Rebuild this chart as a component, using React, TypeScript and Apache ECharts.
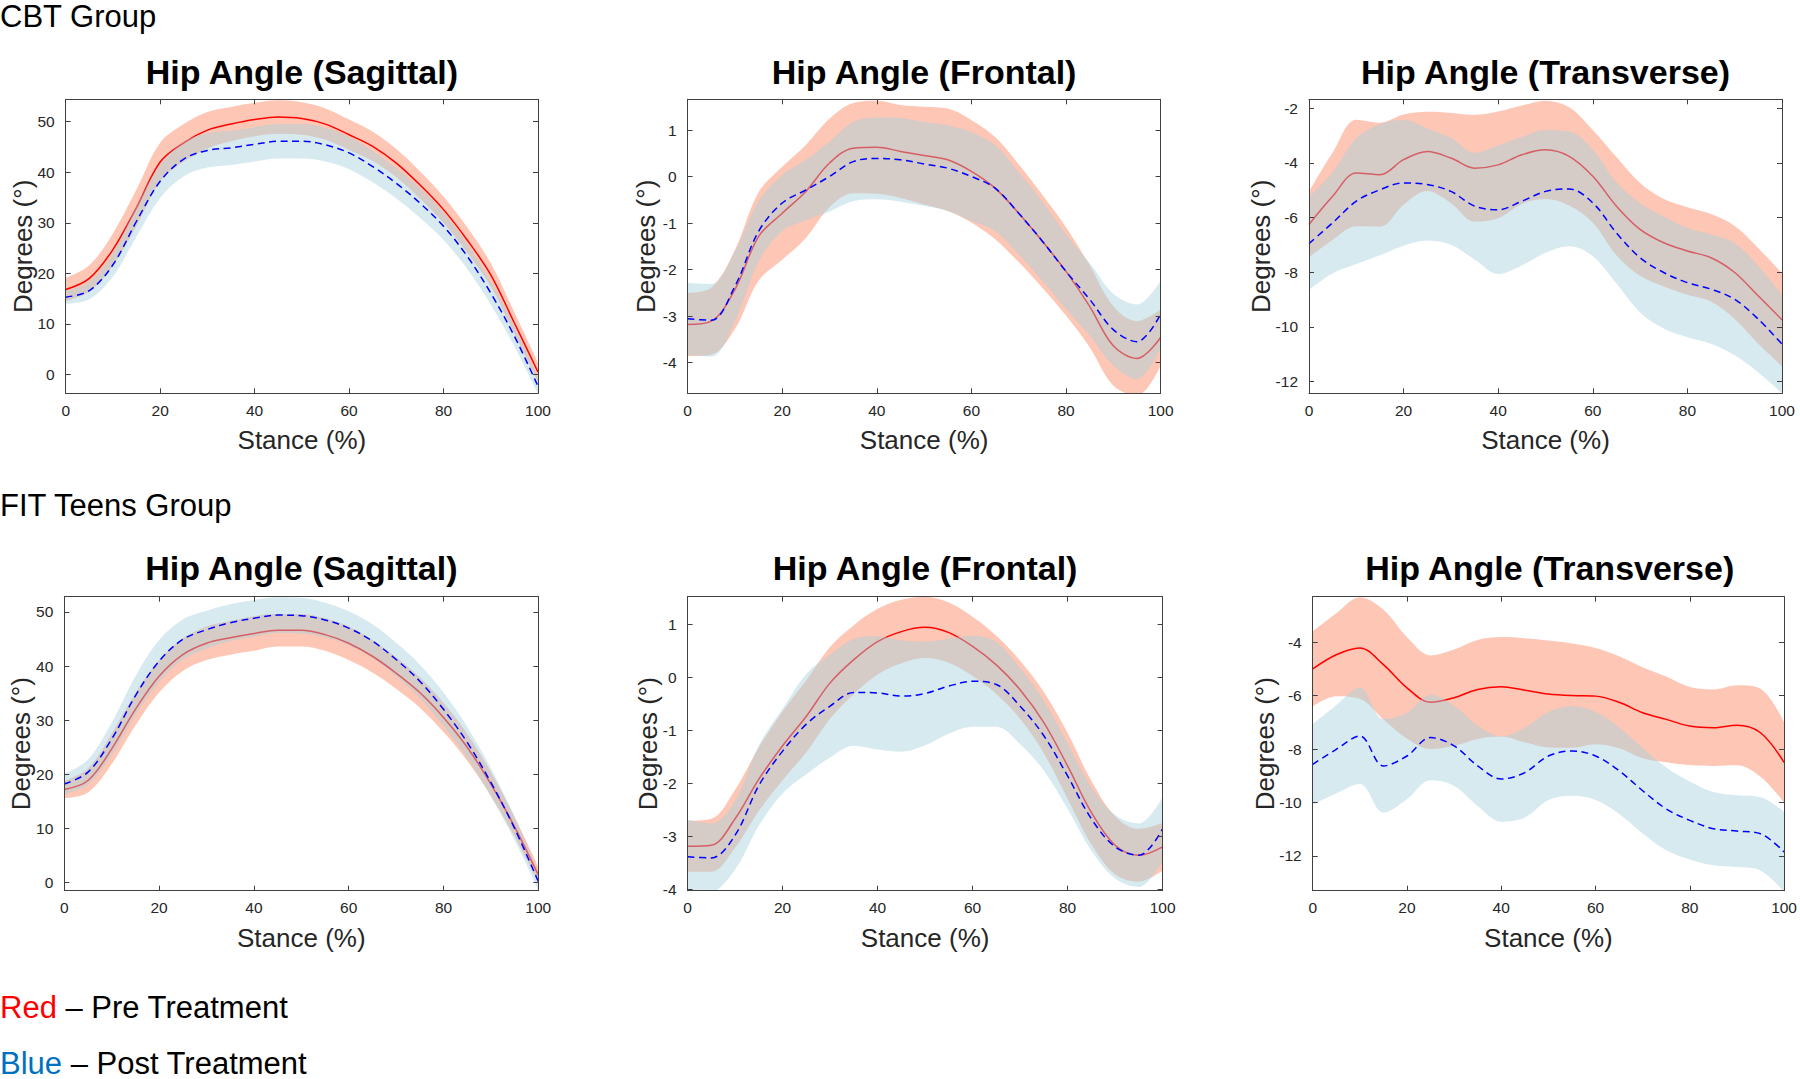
import React, { useEffect, useRef } from "react";
import * as echarts from "echarts";

// ---------- data ----------
const stance = [0, 5, 10, 15, 20, 25, 30, 35, 40, 45, 50, 55, 60, 65, 70, 75, 80, 85, 90, 95, 100];

// CBT Group – Sagittal
const cbtSagPreMean = [16.8, 19.0, 24.7, 33.0, 42.0, 45.8, 48.3, 49.5, 50.4, 50.9, 50.6, 49.5, 47.4, 45.1, 41.8, 37.5, 32.6, 26.6, 19.7, 10.2, 0.5];
const cbtSagPreSd = [2.3, 2.6, 3.2, 3.6, 3.8, 3.7, 3.6, 3.4, 3.3, 3.3, 3.2, 3.1, 3.0, 2.9, 2.8, 2.7, 2.6, 2.5, 2.3, 2.1, 1.9];
const cbtSagPostMean = [15.3, 16.6, 21.7, 30.3, 38.2, 42.6, 44.3, 44.8, 45.5, 46.1, 46.1, 45.4, 43.8, 41.1, 37.8, 33.9, 29.3, 23.4, 16.1, 7.6, -2.3];
const cbtSagPostSd = [1.3, 1.7, 2.3, 3.0, 3.3, 3.4, 3.4, 3.4, 3.4, 3.4, 3.4, 3.3, 3.2, 3.1, 3.0, 2.9, 2.7, 2.5, 2.3, 2.0, 1.5];

// CBT Group – Frontal
const cbtFroPreMean = [-3.18, -3.11, -2.43, -1.29, -0.79, -0.32, 0.29, 0.61, 0.63, 0.54, 0.45, 0.36, 0.11, -0.25, -0.79, -1.39, -2.04, -2.79, -3.64, -3.91, -3.46];
const cbtFroPreSd = [0.68, 0.72, 0.85, 0.95, 1.0, 1.0, 0.95, 0.97, 1.0, 1.0, 1.05, 1.1, 1.1, 1.1, 1.05, 1.0, 0.95, 0.88, 0.85, 0.8, 0.6];
const cbtFroPostMean = [-3.06, -3.09, -2.36, -1.18, -0.57, -0.29, 0.0, 0.32, 0.39, 0.36, 0.27, 0.18, 0.0, -0.25, -0.79, -1.39, -2.04, -2.64, -3.29, -3.55, -2.96];
const cbtFroPostSd = [0.77, 0.78, 0.75, 0.65, 0.6, 0.65, 0.75, 0.85, 0.88, 0.9, 0.9, 0.92, 0.95, 0.92, 0.88, 0.85, 0.8, 0.78, 0.77, 0.8, 0.72];

// CBT Group – Transverse
const cbtTraPreMean = [-6.25, -5.22, -4.37, -4.43, -3.88, -3.58, -3.82, -4.19, -4.07, -3.7, -3.52, -3.76, -4.49, -5.58, -6.43, -6.92, -7.22, -7.47, -8.01, -8.87, -9.74];
const cbtTraPreSd = [1.2, 1.6, 1.95, 1.9, 1.65, 1.45, 1.65, 1.95, 1.95, 1.8, 1.8, 1.8, 1.7, 1.8, 1.7, 1.6, 1.6, 1.6, 1.7, 1.75, 1.7];
const cbtTraPostMean = [-6.95, -6.19, -5.4, -4.98, -4.73, -4.79, -5.04, -5.58, -5.71, -5.4, -5.04, -4.95, -5.46, -6.56, -7.47, -8.01, -8.38, -8.62, -8.99, -9.72, -10.63];
const cbtTraPostSd = [1.7, 1.85, 2.3, 2.4, 2.3, 2.05, 1.95, 1.95, 2.35, 2.35, 2.25, 2.1, 1.95, 1.85, 2.0, 2.05, 2.0, 2.0, 2.05, 1.95, 1.8];

// FIT Teens Group – Sagittal
const fitSagPreMean = [17.2, 18.85, 24.7, 32.0, 38.1, 42.1, 44.2, 45.2, 46.0, 46.6, 46.6, 45.8, 44.2, 41.8, 38.7, 35.1, 30.5, 25.0, 18.2, 10.3, 1.4];
const fitSagPreSd = [1.6, 2.2, 2.8, 3.0, 3.0, 3.0, 3.1, 3.1, 3.2, 3.0, 3.0, 3.0, 3.1, 3.0, 2.9, 2.8, 2.7, 2.5, 2.2, 1.8, 1.5];
const fitSagPostMean = [18.2, 20.4, 26.5, 34.5, 40.9, 44.9, 46.7, 48.0, 48.8, 49.4, 49.3, 48.5, 47.0, 44.6, 41.2, 37.2, 32.0, 25.9, 18.5, 10.0, 0.2];
const fitSagPostSd = [1.9, 2.3, 3.0, 3.6, 3.9, 3.7, 3.5, 3.4, 3.4, 3.3, 3.3, 3.2, 3.1, 3.1, 3.1, 3.1, 3.1, 2.9, 2.6, 2.2, 1.6];

// FIT Teens Group – Frontal
const fitFroPreMean = [-3.19, -3.17, -2.67, -1.92, -1.29, -0.73, -0.1, 0.34, 0.68, 0.87, 0.95, 0.85, 0.59, 0.24, -0.23, -0.85, -1.67, -2.55, -3.17, -3.36, -3.2];
const fitFroPreSd = [0.48, 0.5, 0.55, 0.6, 0.65, 0.68, 0.68, 0.65, 0.62, 0.6, 0.58, 0.57, 0.56, 0.55, 0.55, 0.58, 0.62, 0.6, 0.55, 0.5, 0.45];
const fitFroPostMean = [-3.39, -3.41, -2.98, -2.04, -1.39, -0.88, -0.54, -0.28, -0.29, -0.35, -0.3, -0.16, -0.07, -0.13, -0.54, -1.1, -1.86, -2.67, -3.2, -3.36, -2.86];
const fitFroPostSd = [0.7, 0.65, 0.65, 0.76, 0.8, 0.95, 0.97, 1.01, 1.07, 1.05, 0.98, 0.9, 0.86, 0.8, 0.72, 0.66, 0.62, 0.6, 0.6, 0.6, 0.6];

// FIT Teens Group – Transverse
const fitTraPreMean = [-5.0, -4.47, -4.22, -4.84, -5.71, -6.25, -6.08, -5.77, -5.67, -5.8, -5.94, -6.0, -6.02, -6.25, -6.64, -6.89, -7.14, -7.2, -7.11, -7.39, -8.5];
const fitTraPreSd = [1.4, 1.55, 1.9, 2.05, 1.9, 1.75, 1.8, 1.85, 1.86, 1.95, 2.0, 1.95, 1.8, 1.72, 1.7, 1.6, 1.46, 1.43, 1.5, 1.65, 1.5];
const fitTraPostMean = [-8.57, -8.01, -7.51, -8.63, -8.26, -7.57, -7.88, -8.63, -9.12, -8.88, -8.26, -8.07, -8.26, -8.81, -9.56, -10.24, -10.67, -10.98, -11.07, -11.17, -11.85];
const fitTraPostSd = [1.5, 1.65, 1.8, 1.75, 1.62, 1.6, 1.5, 1.5, 1.6, 1.68, 1.65, 1.68, 1.65, 1.62, 1.6, 1.55, 1.46, 1.37, 1.34, 1.37, 1.5];

// texts and axis ranges
const groupLabels = ["CBT Group", "FIT Teens Group"];
const panelTitles = [
  "Hip Angle (Sagittal)", "Hip Angle (Frontal)", "Hip Angle (Transverse)",
  "Hip Angle (Sagittal)", "Hip Angle (Frontal)", "Hip Angle (Transverse)",
];
const legendLines = [
  { key: "Red", rest: " – Pre Treatment" },
  { key: "Blue", rest: " – Post Treatment" },
];
const xAxisName = "Stance (%)";
const yAxisName = "Degrees (°)";
const xLabelStep = 20;
const yMins = [-3.7, -4.66, -12.43, -1.5, -4.03, -13.3];
const yMaxs = [54.4, 1.66, -1.67, 52.8, 1.53, -2.3];
const ySteps = [10, 1, 2, 10, 1, 2];

const preMeans = [cbtSagPreMean, cbtFroPreMean, cbtTraPreMean, fitSagPreMean, fitFroPreMean, fitTraPreMean];
const preSds = [cbtSagPreSd, cbtFroPreSd, cbtTraPreSd, fitSagPreSd, fitFroPreSd, fitTraPreSd];
const postMeans = [cbtSagPostMean, cbtFroPostMean, cbtTraPostMean, fitSagPostMean, fitFroPostMean, fitTraPostMean];
const postSds = [cbtSagPostSd, cbtFroPostSd, cbtTraPostSd, fitSagPostSd, fitFroPostSd, fitTraPostSd];

// ---------- layout & style ----------
const FONT = '"Liberation Sans", Arial, Helvetica, sans-serif';
const AXIS_COLOR = "#404040";
const TEXT_COLOR = "#262626";
const gridLefts = [65.7, 687.6, 1309, 64.3, 687.6, 1312.7];
const gridWidths = [472.3, 473, 473, 474, 475, 474];
const gridTops = [99.3, 99.3, 99.3, 596.7, 596.7, 596.7];
const gridHeight = 294;
const yNameGaps = [30, 28.5, 35, 30.5, 27, 35];
const titleYs = [72, 72, 72, 568, 568, 568];
const groupLabelYs = [16, 505];
const legendYs = [1007, 1063];
const legendColors = ["#ff0000", "#0070c0"];
const PRE_BAND = "rgb(250,128,90)";
const POST_BAND = "rgb(164,208,222)";
const SMOOTH = 0.35;

function bandSeries(i: number, key: string, mean: number[], sd: number[], color: string, opacity: number, z: number) {
  const lower = mean.map((m, k) => +(m - sd[k]).toFixed(4));
  const width = sd.map((s) => +(2 * s).toFixed(4));
  const common = {
    type: "line",
    xAxisIndex: 2 * i,
    yAxisIndex: 2 * i,
    stack: key,
    stackStrategy: "all",
    symbol: "none",
    showSymbol: false,
    smooth: SMOOTH,
    silent: true,
    z,
    lineStyle: { width: 0, opacity: 0 },
  };
  return [
    { ...common, data: lower },
    { ...common, data: width, areaStyle: { color, opacity } },
  ];
}

function lineSeries(i: number, mean: number[], color: string, dashed: boolean, z: number) {
  return {
    type: "line",
    xAxisIndex: 2 * i,
    yAxisIndex: 2 * i,
    data: mean,
    symbol: "none",
    showSymbol: false,
    smooth: SMOOTH,
    silent: true,
    z,
    lineStyle: { color, width: 1.5, type: dashed ? [7, 4.5] : "solid" },
  };
}

function buildOption() {
  const grid: any[] = [];
  const xAxis: any[] = [];
  const yAxis: any[] = [];
  const series: any[] = [];
  const graphic: any[] = [];

  const every = Math.round(xLabelStep / (stance[1] - stance[0])) - 1;
  const cats = stance.map((s) => String(s));
  const tickX = { show: true, inside: true, length: 5, interval: every, lineStyle: { color: AXIS_COLOR, width: 1 } };
  const tickY = { show: true, inside: true, length: 5, lineStyle: { color: AXIS_COLOR, width: 1 } };
  const line = { show: true, onZero: false, lineStyle: { color: AXIS_COLOR, width: 1 } };
  const labelStyle = { color: TEXT_COLOR, fontSize: 15.5, fontFamily: FONT };
  const nameStyle = { color: TEXT_COLOR, fontSize: 26, fontFamily: FONT };

  for (let i = 0; i < 6; i++) {
    grid.push({ left: gridLefts[i], top: gridTops[i], width: gridWidths[i], height: gridHeight, show: false, containLabel: false });
    const xBase = {
      gridIndex: i,
      type: "category",
      data: cats,
      boundaryGap: false,
      axisLine: line,
      axisTick: tickX,
      splitLine: { show: false },
      z: 10,
    };
    xAxis.push({
      ...xBase,
      position: "bottom",
      axisLabel: { ...labelStyle, margin: 9, interval: every },
      name: xAxisName,
      nameLocation: "middle",
      nameGap: 34,
      nameMoveOverlap: false,
      nameTextStyle: nameStyle,
    });
    xAxis.push({ ...xBase, position: "top", axisLabel: { show: false } });
    const yBase = {
      gridIndex: i,
      type: "value",
      min: yMins[i],
      max: yMaxs[i],
      minInterval: ySteps[i],
      maxInterval: ySteps[i],
      axisLine: line,
      axisTick: tickY,
      splitLine: { show: false },
      z: 10,
    };
    yAxis.push({
      ...yBase,
      position: "left",
      axisLabel: { ...labelStyle, margin: 11, showMinLabel: false, showMaxLabel: false },
      name: yAxisName,
      nameLocation: "middle",
      nameRotate: 90,
      nameGap: yNameGaps[i],
      nameMoveOverlap: false,
      nameTextStyle: nameStyle,
    });
    yAxis.push({ ...yBase, position: "right", axisLabel: { show: false } });

    series.push(...bandSeries(i, "pre" + i, preMeans[i], preSds[i], PRE_BAND, 0.45, 2));
    series.push(lineSeries(i, preMeans[i], "#ff0000", false, 2));
    series.push(...bandSeries(i, "post" + i, postMeans[i], postSds[i], POST_BAND, 0.45, 3));
    series.push(lineSeries(i, postMeans[i], "#0000ff", true, 4));

    graphic.push({
      type: "text",
      x: gridLefts[i] + gridWidths[i] / 2,
      y: titleYs[i],
      style: {
        text: panelTitles[i],
        font: `bold 34px ${FONT}`,
        fill: "#000",
        align: "center",
        textAlign: "center",
        verticalAlign: "middle",
        textVerticalAlign: "middle",
      },
    });
  }

  groupLabels.forEach((t, g) => {
    graphic.push({
      type: "text",
      x: 0,
      y: groupLabelYs[g],
      style: { text: t, font: `31px ${FONT}`, fill: "#000", verticalAlign: "middle", textVerticalAlign: "middle" },
    });
  });

  legendLines.forEach((l, j) => {
    graphic.push({
      type: "text",
      x: 0,
      y: legendYs[j],
      style: {
        text: `{c|${l.key}}{k|${l.rest}}`,
        rich: {
          c: { fill: legendColors[j], fontSize: 31, fontFamily: FONT },
          k: { fill: "#000", fontSize: 31, fontFamily: FONT },
        },
        font: `31px ${FONT}`,
        verticalAlign: "middle",
        textVerticalAlign: "middle",
      },
    });
  });

  return {
    animation: false,
    backgroundColor: "#ffffff",
    grid,
    xAxis,
    yAxis,
    series,
    graphic,
  };
}

export default function App() {
  const ref = useRef<HTMLDivElement>(null);
  useEffect(() => {
    const chart = echarts.init(ref.current as HTMLDivElement, null, { renderer: "svg" });
    chart.setOption(buildOption() as any);
    return () => chart.dispose();
  }, []);
  return (
    <div
      ref={ref}
      style={{ position: "absolute", left: 0, top: 0, width: 1800, height: 1079, background: "#fff" }}
    />
  );
}
